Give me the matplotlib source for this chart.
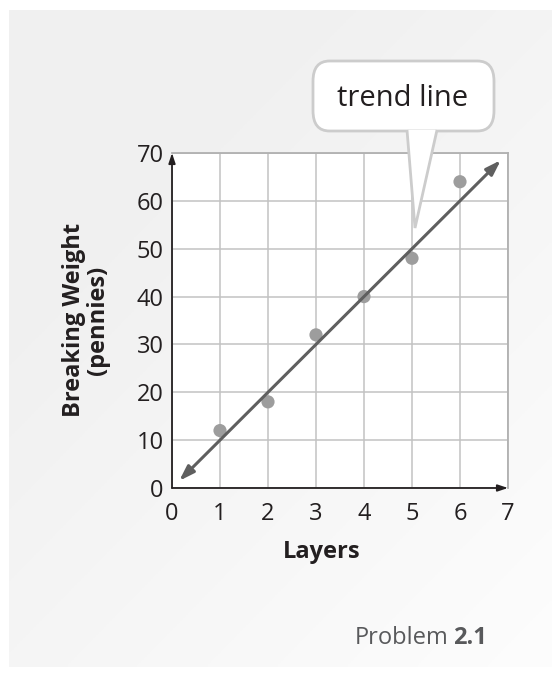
import numpy as np
import matplotlib.pyplot as plt
from matplotlib.patches import FancyBboxPatch, Polygon

plt.rcParams['font.family'] = ['Open Sans', 'DejaVu Sans']

# data
layers = [1, 2, 3, 4, 5, 6]
breaking_weight = [12, 18, 32, 40, 48, 64]
trend_x = [0.15, 6.85]
trend_y = [1.5, 68.5]
x_ticks = [0, 1, 2, 3, 4, 5, 6, 7]
y_ticks = [0, 10, 20, 30, 40, 50, 60, 70]

W, H = 552, 673
fig = plt.figure(figsize=(W / 100, H / 100), dpi=100)
fig.patch.set_facecolor('white')


def fx(px):
    return px / W


def fy(py):
    return 1 - py / H


# light gray panel with a soft gradient towards the bottom right
bg = fig.add_axes([fx(9), fy(667), 1 - fx(9), fy(10) - fy(667)])
gx, gy = np.meshgrid(np.linspace(0, 1, 200), np.linspace(0, 1, 200))
grad = np.clip(0.55 * gx + 0.65 * gy - 0.35, 0, 1)
top = np.array([0.945, 0.945, 0.945])
bot = np.array([1.0, 1.0, 1.0])
img = top[None, None, :] * (1 - grad[..., None]) + bot[None, None, :] * grad[..., None]
bg.imshow(img, aspect='auto', extent=[0, 1, 0, 1], origin='upper')
bg.axis('off')

# main chart
ax = fig.add_axes([fx(172), fy(488), fx(508) - fx(172), fy(153) - fy(488)])
ax.set_facecolor('white')
ax.set_xlim(0, 7)
ax.set_ylim(0, 70)
ax.set_xticks(x_ticks)
ax.set_yticks(y_ticks)
ax.grid(True, color='#c2c2c2', lw=1.1)
ax.set_axisbelow(True)
ax.tick_params(length=0, labelsize=17, colors='#231f20')
ax.tick_params(axis='x', pad=10)
ax.tick_params(axis='y', pad=6)
for s in ['top', 'right']:
    ax.spines[s].set_color('#b0b0b0')
    ax.spines[s].set_linewidth(1.3)
for s in ['left', 'bottom']:
    ax.spines[s].set_visible(False)

# axes with arrows
ax.annotate('', xy=(0, 70), xytext=(0, 0),
            arrowprops=dict(arrowstyle='-|>,head_length=0.6,head_width=0.2',
                            color='#231f20', lw=1.3, shrinkA=0, shrinkB=0),
            annotation_clip=False, zorder=4)
ax.annotate('', xy=(7, 0), xytext=(0, 0),
            arrowprops=dict(arrowstyle='-|>,head_length=0.6,head_width=0.2',
                            color='#231f20', lw=1.3, shrinkA=0, shrinkB=0),
            annotation_clip=False, zorder=4)

ax.scatter(layers, breaking_weight, s=90, color='#9d9d9d', zorder=3,
           edgecolors='none')
ax.annotate('', xy=(trend_x[1], trend_y[1]), xytext=(trend_x[0], trend_y[0]),
            arrowprops=dict(arrowstyle='<|-|>,head_length=0.9,head_width=0.3',
                            color='#5f5f5f', lw=2.2, shrinkA=0, shrinkB=0),
            zorder=5)

fig.text(fx(322), fy(552), 'Layers', fontsize=17, fontweight='bold',
         color='#231f20', ha='center', va='center')
fig.text(fx(86), fy(320), 'Breaking Weight\n(pennies)', fontsize=17,
         fontweight='bold', color='#231f20', ha='center', va='center',
         rotation=90, multialignment='center', linespacing=1.05)

# callout bubble
box = FancyBboxPatch((fx(313), fy(131)), fx(494) - fx(313), fy(61) - fy(131),
                     boxstyle='round,pad=0,rounding_size=0.03',
                     transform=fig.transFigure, facecolor='white',
                     edgecolor='#cccccc', lw=2, zorder=10)
fig.add_artist(box)
ptr = Polygon([(fx(407), fy(130)), (fx(415), fy(228)), (fx(437), fy(130))],
              closed=False, transform=fig.transFigure, facecolor='white',
              edgecolor='#cccccc', lw=2, zorder=11)
fig.add_artist(ptr)
fig.text(fx(403), fy(99), 'trend line', fontsize=21, color='#231f20',
         ha='center', va='center', zorder=12)

# footer: "Problem" regular, "2.1" bold
num = fig.text(fx(487), fy(638), '2.1', fontsize=17, color='#58595b',
               fontweight='bold', ha='right', va='center')
fig.canvas.draw()
bb = num.get_window_extent()
fig.text(bb.x0 / W - fx(5), fy(638), 'Problem', fontsize=17, color='#58595b',
         ha='right', va='center')

fig.savefig('out.png', dpi=100)
